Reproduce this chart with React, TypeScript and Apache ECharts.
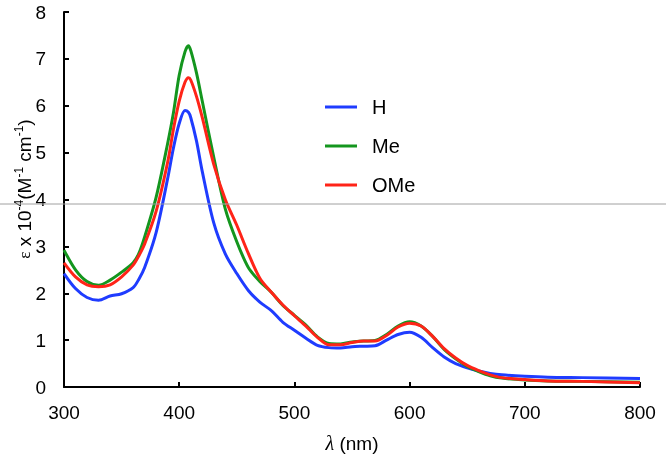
import React, { useEffect, useRef } from "react";
import * as echarts from "echarts";

const wavelengths = [300, 310, 320, 330, 340, 350, 360, 365, 370, 380, 390, 395, 400, 405, 408, 410, 415, 420, 430, 440, 450, 460, 470, 480, 490, 500, 510, 520, 530, 540, 550, 560, 570, 580, 590, 600, 610, 620, 630, 640, 650, 660, 670, 680, 700, 720, 750, 800];

const seriesH = [2.42, 2.1, 1.91, 1.85, 1.94, 1.99, 2.12, 2.3, 2.55, 3.3, 4.45, 5.1, 5.62, 5.9, 5.86, 5.75, 5.25, 4.6, 3.5, 2.84, 2.42, 2.06, 1.81, 1.63, 1.38, 1.21, 1.04, 0.89, 0.84, 0.83, 0.86, 0.87, 0.88, 1.0, 1.12, 1.17, 1.06, 0.84, 0.64, 0.5, 0.41, 0.34, 0.29, 0.26, 0.23, 0.21, 0.2, 0.18];

const seriesMe = [2.92, 2.5, 2.25, 2.17, 2.28, 2.45, 2.65, 2.85, 3.2, 4.05, 5.2, 5.85, 6.65, 7.15, 7.28, 7.18, 6.7, 6.1, 4.9, 3.8, 3.1, 2.55, 2.25, 2.02, 1.74, 1.53, 1.32, 1.07, 0.93, 0.92, 0.96, 0.98, 0.99, 1.12, 1.3, 1.39, 1.3, 1.08, 0.8, 0.6, 0.44, 0.33, 0.24, 0.19, 0.15, 0.13, 0.12, 0.1];

const seriesOMe = [2.65, 2.35, 2.18, 2.14, 2.18, 2.35, 2.6, 2.8, 3.05, 3.75, 4.8, 5.5, 6.1, 6.5, 6.6, 6.55, 6.2, 5.75, 4.75, 4.0, 3.45, 2.85, 2.32, 2.02, 1.75, 1.52, 1.3, 1.06, 0.9, 0.9, 0.95, 0.98, 0.98, 1.1, 1.28, 1.36, 1.3, 1.08, 0.82, 0.62, 0.46, 0.35, 0.26, 0.2, 0.16, 0.13, 0.12, 0.09];

const seriesNames = ["H", "Me", "OMe"];
const seriesColors = ["#1f3cff", "#14961e", "#ff2418"];
const xTicks = { min: 300, max: 800, interval: 100 };
const yTicks = { min: 0, max: 8, interval: 1 };

export default function App() {
  const ref = useRef<HTMLDivElement>(null);
  useEffect(() => {
    if (!ref.current) return;
    const chart = echarts.init(ref.current, null, { renderer: "svg" });
    const allData = [seriesH, seriesMe, seriesOMe];
    const font = "Liberation Sans, Arial, sans-serif";
    chart.setOption({
      animation: false,
      grid: { left: 64, right: 26, top: 12, bottom: 67 },
      legend: {
        orient: "vertical",
        left: 320,
        top: 92,
        itemWidth: 32,
        itemHeight: 3,
        itemGap: 19,
        icon: "rect",
        data: seriesNames,
        textStyle: { fontSize: 20, color: "#000", fontFamily: font, padding: [0, 0, 0, 10] },
      },
      xAxis: {
        type: "value",
        min: xTicks.min,
        max: xTicks.max,
        interval: xTicks.interval,
        axisLine: { lineStyle: { color: "#000", width: 2 } },
        axisTick: { inside: true, length: 5, lineStyle: { color: "#000", width: 2 } },
        axisLabel: { fontSize: 19, color: "#000", fontFamily: font, margin: 16 },
        splitLine: { show: false },
      },
      yAxis: {
        type: "value",
        min: yTicks.min,
        max: yTicks.max,
        interval: yTicks.interval,
        axisLine: { show: true, lineStyle: { color: "#000", width: 2 } },
        axisTick: { show: true, inside: true, length: 5, lineStyle: { color: "#000", width: 2 } },
        axisLabel: { fontSize: 19, color: "#000", fontFamily: font, margin: 18 },
        splitLine: { show: false },
      },
      series: seriesNames.map((name, i) => ({
        name,
        type: "line",
        smooth: 0.3,
        showSymbol: false,
        color: seriesColors[i],
        lineStyle: { width: 3, color: seriesColors[i] },
        data: wavelengths.map((w, j) => [w, allData[i][j]]),
      })),
      graphic: [
        {
          type: "line",
          z: 100,
          shape: { x1: 0, y1: 204, x2: 666, y2: 204 },
          style: { stroke: "#a0a0a0", lineWidth: 1 },
        },
        {
          type: "text",
          x: 24,
          y: 189,
          rotation: Math.PI / 2,
          style: {
            text: "{e|ε} x 10{s|-4}(M{s|-1} cm{s|-1})",
            align: "center",
            verticalAlign: "middle",
            fill: "#000",
            font: "19px " + font,
            rich: {
              e: { fontSize: 17, fontFamily: "Liberation Serif, serif", lineHeight: 22 },
              s: { fontSize: 12, fontFamily: font, verticalAlign: "top", lineHeight: 12 },
            },
          },
        },
        {
          type: "text",
          x: 352,
          y: 443,
          style: {
            text: "{l|λ} (nm)",
            align: "center",
            verticalAlign: "middle",
            fill: "#000",
            font: "19px " + font,
            rich: {
              l: { fontSize: 20, fontFamily: "Liberation Serif, serif", fontStyle: "italic" },
            },
          },
        },
      ],
    });
    return () => chart.dispose();
  }, []);
  return <div ref={ref} style={{ position: "fixed", left: 0, top: 0, width: 666, height: 454 }} />;
}
